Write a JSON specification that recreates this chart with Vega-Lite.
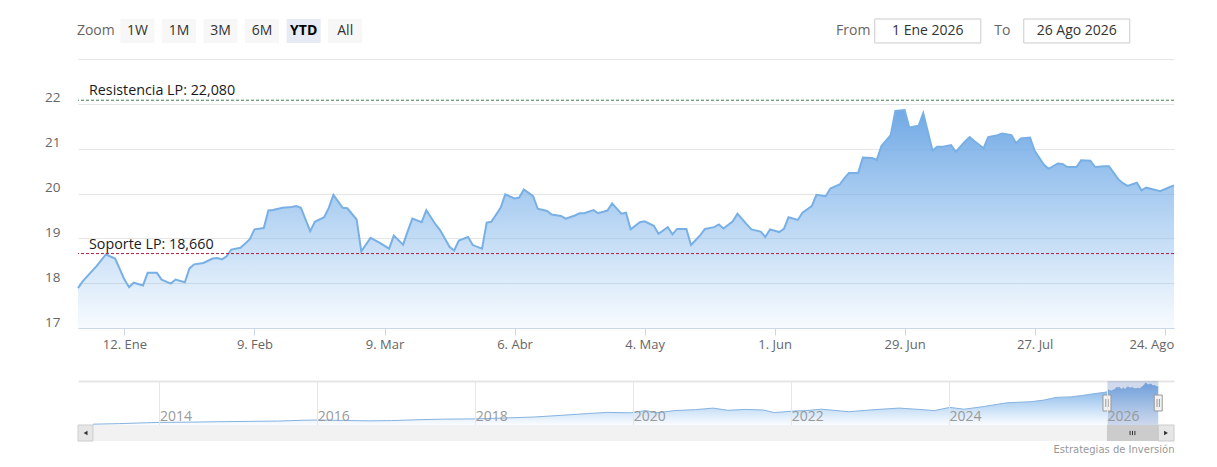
{
  "$schema": "https://vega.github.io/schema/vega-lite/v6.json",
  "description": "Cotización YTD 2026 con soporte y resistencia de largo plazo y navegador histórico",
  "background": "white",
  "padding": {"left": 44, "top": 2, "right": 0, "bottom": 2},
  "spacing": 0,
  "bounds": "flush",
  "config": {
    "view": {"stroke": "transparent"},
    "font": "Open Sans",
    "axis": {"labelFont": "Open Sans", "labelColor": "#666666", "labelFontSize": 13, "title": null}
  },
  "datasets": {
    "precios": [
      {"fecha": "2013-02-27", "precio": 2.43}, {"fecha": "2013-07-01", "precio": 2.7}, {"fecha": "2013-11-01", "precio": 3.1},
      {"fecha": "2014-01-01", "precio": 3.28}, {"fecha": "2014-06-01", "precio": 3.4}, {"fecha": "2014-10-01", "precio": 3.6},
      {"fecha": "2015-02-15", "precio": 3.75}, {"fecha": "2015-07-01", "precio": 3.9}, {"fecha": "2015-11-01", "precio": 4.3},
      {"fecha": "2016-01-01", "precio": 4.41}, {"fecha": "2016-05-01", "precio": 4.2}, {"fecha": "2016-09-01", "precio": 4.0},
      {"fecha": "2016-12-10", "precio": 4.13}, {"fecha": "2017-04-01", "precio": 4.5}, {"fecha": "2017-08-01", "precio": 4.8},
      {"fecha": "2018-01-01", "precio": 4.93}, {"fecha": "2018-05-01", "precio": 5.3}, {"fecha": "2018-10-01", "precio": 5.82},
      {"fecha": "2019-02-01", "precio": 6.6}, {"fecha": "2019-06-10", "precio": 7.47}, {"fecha": "2019-09-01", "precio": 7.99},
      {"fecha": "2019-12-20", "precio": 7.8}, {"fecha": "2020-02-28", "precio": 8.84}, {"fecha": "2020-04-20", "precio": 7.8},
      {"fecha": "2020-07-10", "precio": 8.84}, {"fecha": "2020-10-15", "precio": 9.3}, {"fecha": "2021-01-05", "precio": 10.02},
      {"fecha": "2021-03-15", "precio": 8.98}, {"fecha": "2021-06-01", "precio": 9.4}, {"fecha": "2021-08-25", "precio": 9.12},
      {"fecha": "2021-10-15", "precio": 7.9}, {"fecha": "2022-01-10", "precio": 8.6}, {"fecha": "2022-03-10", "precio": 8.84},
      {"fecha": "2022-05-20", "precio": 9.5}, {"fecha": "2022-09-25", "precio": 8.32}, {"fecha": "2023-01-10", "precio": 9.2},
      {"fecha": "2023-05-15", "precio": 10.02}, {"fecha": "2023-08-15", "precio": 9.4}, {"fecha": "2023-10-25", "precio": 8.84},
      {"fecha": "2024-01-05", "precio": 10.35}, {"fecha": "2024-03-10", "precio": 9.5}, {"fecha": "2024-06-01", "precio": 10.6},
      {"fecha": "2024-09-25", "precio": 12.52}, {"fecha": "2025-01-15", "precio": 13.04}, {"fecha": "2025-03-15", "precio": 13.8},
      {"fecha": "2025-05-10", "precio": 15.07}, {"fecha": "2025-07-15", "precio": 15.3}, {"fecha": "2025-09-05", "precio": 15.92},
      {"fecha": "2025-11-01", "precio": 16.8}, {"fecha": "2025-12-31", "precio": 17.6},
      {"fecha": "2026-01-02", "precio": 17.89}, {"fecha": "2026-01-03", "precio": 18.04}, {"fecha": "2026-01-05", "precio": 18.27},
      {"fecha": "2026-01-06", "precio": 18.38}, {"fecha": "2026-01-08", "precio": 18.64}, {"fecha": "2026-01-10", "precio": 18.55},
      {"fecha": "2026-01-12", "precio": 18.08}, {"fecha": "2026-01-13", "precio": 17.91}, {"fecha": "2026-01-14", "precio": 18.01},
      {"fecha": "2026-01-16", "precio": 17.95}, {"fecha": "2026-01-17", "precio": 18.23}, {"fecha": "2026-01-19", "precio": 18.23},
      {"fecha": "2026-01-20", "precio": 18.08}, {"fecha": "2026-01-22", "precio": 17.99}, {"fecha": "2026-01-23", "precio": 18.08},
      {"fecha": "2026-01-25", "precio": 18.02}, {"fecha": "2026-01-26", "precio": 18.33}, {"fecha": "2026-01-27", "precio": 18.42},
      {"fecha": "2026-01-29", "precio": 18.45}, {"fecha": "2026-01-31", "precio": 18.55}, {"fecha": "2026-02-01", "precio": 18.56},
      {"fecha": "2026-02-02", "precio": 18.53}, {"fecha": "2026-02-03", "precio": 18.6}, {"fecha": "2026-02-04", "precio": 18.75},
      {"fecha": "2026-02-06", "precio": 18.79}, {"fecha": "2026-02-08", "precio": 18.98}, {"fecha": "2026-02-09", "precio": 19.2},
      {"fecha": "2026-02-11", "precio": 19.23}, {"fecha": "2026-02-12", "precio": 19.62}, {"fecha": "2026-02-13", "precio": 19.63},
      {"fecha": "2026-02-15", "precio": 19.68}, {"fecha": "2026-02-17", "precio": 19.7}, {"fecha": "2026-02-18", "precio": 19.72},
      {"fecha": "2026-02-19", "precio": 19.68}, {"fecha": "2026-02-21", "precio": 19.16}, {"fecha": "2026-02-22", "precio": 19.37},
      {"fecha": "2026-02-24", "precio": 19.47}, {"fecha": "2026-02-25", "precio": 19.68}, {"fecha": "2026-02-26", "precio": 19.97},
      {"fecha": "2026-02-28", "precio": 19.68}, {"fecha": "2026-03-01", "precio": 19.67}, {"fecha": "2026-03-03", "precio": 19.42},
      {"fecha": "2026-03-04", "precio": 18.71}, {"fecha": "2026-03-06", "precio": 19.01}, {"fecha": "2026-03-08", "precio": 18.9},
      {"fecha": "2026-03-10", "precio": 18.77}, {"fecha": "2026-03-11", "precio": 19.06}, {"fecha": "2026-03-13", "precio": 18.86},
      {"fecha": "2026-03-14", "precio": 19.16}, {"fecha": "2026-03-15", "precio": 19.44}, {"fecha": "2026-03-17", "precio": 19.36},
      {"fecha": "2026-03-18", "precio": 19.63}, {"fecha": "2026-03-20", "precio": 19.31}, {"fecha": "2026-03-21", "precio": 19.18},
      {"fecha": "2026-03-23", "precio": 18.81}, {"fecha": "2026-03-24", "precio": 18.73}, {"fecha": "2026-03-25", "precio": 18.95},
      {"fecha": "2026-03-27", "precio": 19.03}, {"fecha": "2026-03-28", "precio": 18.85}, {"fecha": "2026-03-30", "precio": 18.77},
      {"fecha": "2026-03-31", "precio": 19.35}, {"fecha": "2026-04-01", "precio": 19.37}, {"fecha": "2026-04-03", "precio": 19.68},
      {"fecha": "2026-04-04", "precio": 19.98}, {"fecha": "2026-04-06", "precio": 19.89}, {"fecha": "2026-04-07", "precio": 19.91},
      {"fecha": "2026-04-08", "precio": 20.09}, {"fecha": "2026-04-10", "precio": 19.94}, {"fecha": "2026-04-11", "precio": 19.66},
      {"fecha": "2026-04-13", "precio": 19.61}, {"fecha": "2026-04-14", "precio": 19.53}, {"fecha": "2026-04-16", "precio": 19.5},
      {"fecha": "2026-04-17", "precio": 19.44}, {"fecha": "2026-04-19", "precio": 19.51}, {"fecha": "2026-04-20", "precio": 19.56},
      {"fecha": "2026-04-21", "precio": 19.56}, {"fecha": "2026-04-23", "precio": 19.63}, {"fecha": "2026-04-24", "precio": 19.56},
      {"fecha": "2026-04-26", "precio": 19.62}, {"fecha": "2026-04-27", "precio": 19.78}, {"fecha": "2026-04-29", "precio": 19.55},
      {"fecha": "2026-04-30", "precio": 19.57}, {"fecha": "2026-05-01", "precio": 19.2}, {"fecha": "2026-05-03", "precio": 19.36},
      {"fecha": "2026-05-04", "precio": 19.38}, {"fecha": "2026-05-06", "precio": 19.28}, {"fecha": "2026-05-07", "precio": 19.1},
      {"fecha": "2026-05-09", "precio": 19.25}, {"fecha": "2026-05-10", "precio": 19.09}, {"fecha": "2026-05-11", "precio": 19.21},
      {"fecha": "2026-05-13", "precio": 19.21}, {"fecha": "2026-05-14", "precio": 18.85}, {"fecha": "2026-05-16", "precio": 19.07},
      {"fecha": "2026-05-17", "precio": 19.21}, {"fecha": "2026-05-19", "precio": 19.25}, {"fecha": "2026-05-20", "precio": 19.31},
      {"fecha": "2026-05-21", "precio": 19.22}, {"fecha": "2026-05-23", "precio": 19.38}, {"fecha": "2026-05-24", "precio": 19.55},
      {"fecha": "2026-05-26", "precio": 19.31}, {"fecha": "2026-05-27", "precio": 19.2}, {"fecha": "2026-05-29", "precio": 19.15},
      {"fecha": "2026-05-30", "precio": 19.03}, {"fecha": "2026-05-31", "precio": 19.2}, {"fecha": "2026-06-02", "precio": 19.14},
      {"fecha": "2026-06-03", "precio": 19.21}, {"fecha": "2026-06-04", "precio": 19.47}, {"fecha": "2026-06-06", "precio": 19.41},
      {"fecha": "2026-06-07", "precio": 19.57}, {"fecha": "2026-06-09", "precio": 19.72}, {"fecha": "2026-06-10", "precio": 19.97},
      {"fecha": "2026-06-12", "precio": 19.94}, {"fecha": "2026-06-13", "precio": 20.11}, {"fecha": "2026-06-15", "precio": 20.2},
      {"fecha": "2026-06-16", "precio": 20.34}, {"fecha": "2026-06-17", "precio": 20.46}, {"fecha": "2026-06-19", "precio": 20.46},
      {"fecha": "2026-06-20", "precio": 20.8}, {"fecha": "2026-06-22", "precio": 20.79}, {"fecha": "2026-06-23", "precio": 20.75},
      {"fecha": "2026-06-24", "precio": 21.06}, {"fecha": "2026-06-26", "precio": 21.3}, {"fecha": "2026-06-27", "precio": 21.84},
      {"fecha": "2026-06-29", "precio": 21.86}, {"fecha": "2026-06-30", "precio": 21.47}, {"fecha": "2026-07-02", "precio": 21.51},
      {"fecha": "2026-07-03", "precio": 21.79}, {"fecha": "2026-07-05", "precio": 20.96}, {"fecha": "2026-07-06", "precio": 21.04},
      {"fecha": "2026-07-07", "precio": 21.04}, {"fecha": "2026-07-09", "precio": 21.08}, {"fecha": "2026-07-10", "precio": 20.93},
      {"fecha": "2026-07-12", "precio": 21.16}, {"fecha": "2026-07-13", "precio": 21.26}, {"fecha": "2026-07-14", "precio": 21.17},
      {"fecha": "2026-07-16", "precio": 21.01}, {"fecha": "2026-07-17", "precio": 21.26}, {"fecha": "2026-07-19", "precio": 21.3},
      {"fecha": "2026-07-20", "precio": 21.34}, {"fecha": "2026-07-22", "precio": 21.3}, {"fecha": "2026-07-23", "precio": 21.12},
      {"fecha": "2026-07-24", "precio": 21.23}, {"fecha": "2026-07-26", "precio": 21.25}, {"fecha": "2026-07-27", "precio": 20.95},
      {"fecha": "2026-07-29", "precio": 20.64}, {"fecha": "2026-07-30", "precio": 20.55}, {"fecha": "2026-08-01", "precio": 20.67},
      {"fecha": "2026-08-02", "precio": 20.66}, {"fecha": "2026-08-03", "precio": 20.59}, {"fecha": "2026-08-05", "precio": 20.59},
      {"fecha": "2026-08-06", "precio": 20.74}, {"fecha": "2026-08-08", "precio": 20.73}, {"fecha": "2026-08-09", "precio": 20.59},
      {"fecha": "2026-08-11", "precio": 20.61}, {"fecha": "2026-08-12", "precio": 20.61}, {"fecha": "2026-08-14", "precio": 20.32},
      {"fecha": "2026-08-15", "precio": 20.23}, {"fecha": "2026-08-16", "precio": 20.17}, {"fecha": "2026-08-18", "precio": 20.24},
      {"fecha": "2026-08-19", "precio": 20.07}, {"fecha": "2026-08-20", "precio": 20.13}, {"fecha": "2026-08-22", "precio": 20.08},
      {"fecha": "2026-08-23", "precio": 20.05}, {"fecha": "2026-08-25", "precio": 20.14}, {"fecha": "2026-08-26", "precio": 20.18}
    ],
    "niveles": [
      {"nivel": "Resistencia LP", "precio": 22.08, "etiqueta": "Resistencia LP: 22,080"},
      {"nivel": "Soporte LP", "precio": 18.66, "etiqueta": "Soporte LP: 18,660"}
    ],
    "rango": [{"desde": "2026-01-01", "hasta": "2026-08-26"}],
    "botones": [
      {"boton": "Zoom"}, {"boton": "1W"}, {"boton": "1M"}, {"boton": "3M"},
      {"boton": "6M"}, {"boton": "YTD"}, {"boton": "All"}
    ],
    "fechas": [
      {"campo": "From"}, {"campo": "1 Ene 2026"}, {"campo": "To"}, {"campo": "26 Ago 2026"}
    ]
  },
  "vconcat": [
    {
      "width": 1096,
      "height": 56,
      "layer": [
        {
          "data": {"name": "botones"},
          "transform": [{"filter": "datum.boton != 'Zoom'"}],
          "mark": {"type": "point", "shape": "M-1,-0.706H1V0.706H-1Z", "size": 1156, "filled": true, "opacity": 1, "strokeWidth": 0},
          "encoding": {
            "x": {"field": "boton", "type": "nominal", "axis": null,
              "scale": {"type": "band", "domain": ["Zoom", "1W", "1M", "3M", "6M", "YTD", "All"], "range": [-3, 288], "paddingInner": 0, "paddingOuter": 0}},
            "fill": {"condition": {"test": "datum.boton == 'YTD'", "value": "#e6ebf5"}, "value": "#f7f7f7"}
          }
        },
        {
          "data": {"name": "botones"},
          "transform": [{"filter": "datum.boton != 'YTD'"}],
          "mark": {"type": "text", "fontSize": 14},
          "encoding": {
            "x": {"field": "boton", "type": "nominal", "axis": null,
              "scale": {"type": "band", "domain": ["Zoom", "1W", "1M", "3M", "6M", "YTD", "All"], "range": [-3, 288], "paddingInner": 0, "paddingOuter": 0}},
            "text": {"field": "boton"},
            "color": {"condition": {"test": "datum.boton == 'Zoom'", "value": "#666666"}, "value": "#333333"}
          }
        },
        {
          "data": {"name": "botones"},
          "transform": [{"filter": "datum.boton == 'YTD'"}],
          "mark": {"type": "text", "fontSize": 14, "fontWeight": "bold", "color": "#000000"},
          "encoding": {
            "x": {"field": "boton", "type": "nominal", "axis": null,
              "scale": {"type": "band", "domain": ["Zoom", "1W", "1M", "3M", "6M", "YTD", "All"], "range": [-3, 288], "paddingInner": 0, "paddingOuter": 0}},
            "text": {"field": "boton"}
          }
        },
        {
          "data": {"name": "fechas"},
          "transform": [{"filter": "datum.campo != 'From' && datum.campo != 'To'"}],
          "mark": {"type": "point", "shape": "M-1,-0.2264H1V0.2264H-1Z", "size": 11236, "filled": true, "fill": "#ffffff", "stroke": "#cccccc", "strokeWidth": 1, "opacity": 1},
          "encoding": {
            "x": {"field": "campo", "type": "nominal", "axis": null,
              "scale": {"type": "band", "domain": ["From", "1 Ene 2026", "To", "26 Ago 2026"], "range": [738, 1036], "paddingInner": 0, "paddingOuter": 0}}
          }
        },
        {
          "data": {"name": "fechas"},
          "mark": {"type": "text", "fontSize": 14},
          "encoding": {
            "x": {"field": "campo", "type": "nominal", "axis": null,
              "scale": {"type": "band", "domain": ["From", "1 Ene 2026", "To", "26 Ago 2026"], "range": [738, 1036], "paddingInner": 0, "paddingOuter": 0}},
            "text": {"field": "campo"},
            "color": {"condition": {"test": "datum.campo == 'From' || datum.campo == 'To'", "value": "#666666"}, "value": "#333333"}
          }
        }
      ],
      "resolve": {"scale": {"x": "independent"}}
    },
    {
      "width": 1096,
      "height": 269,
      "layer": [
        {
          "data": {"name": "precios"},
          "transform": [{"filter": "time(datum.fecha) >= utc(2026, 0, 1)"}],
          "mark": {
            "type": "area",
            "color": {
              "gradient": "linear", "x1": 0, "y1": 0, "x2": 0, "y2": 1,
              "stops": [
                {"offset": 0, "color": "rgba(108,166,228,0.97)"},
                {"offset": 1, "color": "rgba(124,181,236,0.06)"}
              ]
            }
          },
          "encoding": {
            "x": {
              "field": "fecha", "type": "temporal",
              "scale": {"type": "utc", "domain": [{"year": 2026, "month": 1, "date": 2, "utc": true}, {"year": 2026, "month": 8, "date": 26, "utc": true}]},
              "axis": {
                "values": [
                  {"year": 2026, "month": 1, "date": 12, "utc": true}, {"year": 2026, "month": 2, "date": 9, "utc": true},
                  {"year": 2026, "month": 3, "date": 9, "utc": true}, {"year": 2026, "month": 4, "date": 6, "utc": true},
                  {"year": 2026, "month": 5, "date": 4, "utc": true}, {"year": 2026, "month": 6, "date": 1, "utc": true},
                  {"year": 2026, "month": 6, "date": 29, "utc": true}, {"year": 2026, "month": 7, "date": 27, "utc": true},
                  {"year": 2026, "month": 8, "date": 24, "utc": true}
                ],
                "labelExpr": "utcdate(datum.value) + '. ' + ['Ene','Feb','Mar','Abr','May','Jun','Jul','Ago','Sep','Oct','Nov','Dic'][utcmonth(datum.value)]",
                "grid": false, "domainColor": "#ccd6eb", "tickColor": "#ccd6eb", "tickSize": 7,
                "labelPadding": 3, "labelFlush": 12, "labelFlushOffset": 9, "labelOverlap": false
              }
            },
            "y": {
              "field": "precio", "type": "quantitative",
              "scale": {"domain": [17, 23], "nice": false, "zero": false},
              "axis": {
                "values": [17, 18, 19, 20, 21, 22, 23],
                "labelExpr": "datum.value == 23 ? '' : datum.label",
                "grid": true, "gridColor": "#e6e6e6", "domain": false, "ticks": false,
                "labelPadding": 18, "labelOffset": -6, "labelFontSize": 13.5
              }
            },
            "y2": {"datum": 17}
          }
        },
        {
          "data": {"name": "precios"},
          "transform": [{"filter": "time(datum.fecha) >= utc(2026, 0, 1)"}],
          "mark": {"type": "line", "color": "#78b0e6", "strokeWidth": 2},
          "encoding": {
            "x": {"field": "fecha", "type": "temporal"},
            "y": {"field": "precio", "type": "quantitative"}
          }
        },
        {
          "data": {"name": "niveles"},
          "mark": {"type": "rule", "strokeDash": [3, 2], "strokeWidth": 1},
          "encoding": {
            "y": {"field": "precio", "type": "quantitative"},
            "color": {"field": "nivel", "type": "nominal", "legend": null,
              "scale": {"domain": ["Resistencia LP", "Soporte LP"], "range": ["#3f7a4a", "#b01e3e"]}}
          }
        },
        {
          "data": {"name": "niveles"},
          "mark": {"type": "text", "align": "left", "baseline": "bottom", "dx": 11, "dy": -2, "fontSize": 14.3, "color": "#1a1a1a"},
          "encoding": {
            "x": {"datum": {"year": 2026, "month": 1, "date": 2, "utc": true}, "type": "temporal"},
            "y": {"field": "precio", "type": "quantitative"},
            "text": {"field": "etiqueta"}
          }
        }
      ]
    },
    {
      "width": 1096,
      "height": 53,
      "data": {"values": []},
      "mark": {"type": "text"}
    },
    {
      "width": 1096,
      "height": 44,
      "layer": [
        {
          "data": {"name": "precios"},
          "mark": {
            "type": "area",
            "color": {
              "gradient": "linear", "x1": 0, "y1": 0, "x2": 0, "y2": 1,
              "stops": [
                {"offset": 0, "color": "rgba(108,166,228,0.97)"},
                {"offset": 1, "color": "rgba(124,181,236,0.04)"}
              ]
            }
          },
          "encoding": {
            "x": {
              "field": "fecha", "type": "temporal",
              "scale": {"type": "utc", "domain": [{"year": 2012, "month": 12, "date": 20, "utc": true}, {"year": 2026, "month": 11, "date": 7, "utc": true}]},
              "axis": {
                "values": [
                  {"year": 2014, "utc": true}, {"year": 2016, "utc": true}, {"year": 2018, "utc": true},
                  {"year": 2020, "utc": true}, {"year": 2022, "utc": true}, {"year": 2024, "utc": true},
                  {"year": 2026, "utc": true}
                ],
                "format": "%Y", "grid": true, "gridColor": "#e6e6e6", "domain": false, "ticks": false, "tickSize": 0,
                "labelAlign": "left", "labelBaseline": "alphabetic", "labelPadding": -5, "labelDx": 3,
                "labelFontSize": 14, "labelColor": "#999999", "labelFlush": false, "labelOverlap": false, "zindex": 1
              }
            },
            "y": {
              "field": "precio", "type": "quantitative",
              "scale": {"domain": [2.05, 22.8], "nice": false, "zero": false},
              "axis": {"values": [22.8], "grid": true, "gridColor": "#e6e6e6", "gridWidth": 2, "domain": false, "ticks": false, "labels": false}
            },
            "y2": {"datum": 2.05}
          }
        },
        {
          "data": {"name": "precios"},
          "mark": {"type": "line", "color": "#86b3e0", "strokeWidth": 1},
          "encoding": {
            "x": {"field": "fecha", "type": "temporal"},
            "y": {"field": "precio", "type": "quantitative"}
          }
        },
        {
          "data": {"name": "rango"},
          "mark": {"type": "rect", "color": "#6685c2", "opacity": 0.3},
          "encoding": {
            "x": {"field": "desde", "type": "temporal"},
            "x2": {"field": "hasta"}
          }
        },
        {
          "data": {"name": "rango"},
          "mark": {"type": "point", "shape": "M-0.5,-1H0.5V1H-0.5Z M-0.15,-0.5V0.5 M0.15,-0.5V0.5", "size": 256, "filled": true, "fill": "#f2f2f2", "stroke": "#999999", "strokeWidth": 1, "opacity": 1},
          "encoding": {"x": {"field": "desde", "type": "temporal"}}
        },
        {
          "data": {"name": "rango"},
          "mark": {"type": "point", "shape": "M-0.5,-1H0.5V1H-0.5Z M-0.15,-0.5V0.5 M0.15,-0.5V0.5", "size": 256, "filled": true, "fill": "#f2f2f2", "stroke": "#999999", "strokeWidth": 1, "opacity": 1},
          "encoding": {"x": {"field": "hasta", "type": "temporal"}}
        }
      ]
    },
    {
      "width": 1096,
      "height": 16,
      "title": {"text": "Estrategias de Inversión", "orient": "bottom", "anchor": "end", "font": "DejaVu Sans", "fontSize": 10, "fontWeight": "normal", "color": "#999999", "offset": 3, "baseline": "top"},
      "data": {"name": "rango"},
      "layer": [
        {
          "mark": {"type": "rect", "color": "#f2f2f2"},
          "encoding": {}
        },
        {
          "mark": {"type": "rect", "color": "#cccccc"},
          "encoding": {
            "x": {"field": "desde", "type": "temporal", "axis": null,
              "scale": {"type": "utc", "domain": [{"year": 2012, "month": 12, "date": 20, "utc": true}, {"year": 2026, "month": 11, "date": 7, "utc": true}]}},
            "x2": {"field": "hasta"}
          }
        },
        {
          "mark": {"type": "rect", "fill": "#e6e6e6", "stroke": "#cccccc", "strokeWidth": 1},
          "encoding": {
            "x": {"datum": {"year": 2012, "month": 12, "date": 20, "utc": true}, "type": "temporal"},
            "x2": {"datum": {"year": 2013, "month": 2, "date": 27, "utc": true}}
          }
        },
        {
          "mark": {"type": "rect", "fill": "#e6e6e6", "stroke": "#cccccc", "strokeWidth": 1},
          "encoding": {
            "x": {"datum": {"year": 2026, "month": 8, "date": 27, "utc": true}, "type": "temporal"},
            "x2": {"datum": {"year": 2026, "month": 11, "date": 7, "utc": true}}
          }
        },
        {
          "mark": {"type": "point", "shape": "triangle-left", "size": 20, "filled": true, "color": "#333333", "opacity": 1},
          "encoding": {"x": {"datum": {"year": 2013, "month": 1, "date": 24, "utc": true}, "type": "temporal"}}
        },
        {
          "mark": {"type": "point", "shape": "triangle-right", "size": 20, "filled": true, "color": "#333333", "opacity": 1},
          "encoding": {"x": {"datum": {"year": 2026, "month": 10, "date": 1, "utc": true}, "type": "temporal"}}
        },
        {
          "mark": {"type": "point", "shape": "M-0.8,-0.7V0.7 M0,-0.7V0.7 M0.8,-0.7V0.7", "size": 36, "filled": false, "color": "#333333", "strokeWidth": 1, "opacity": 1},
          "encoding": {"x": {"datum": {"year": 2026, "month": 4, "date": 29, "utc": true}, "type": "temporal"}}
        }
      ]
    }
  ]
}
